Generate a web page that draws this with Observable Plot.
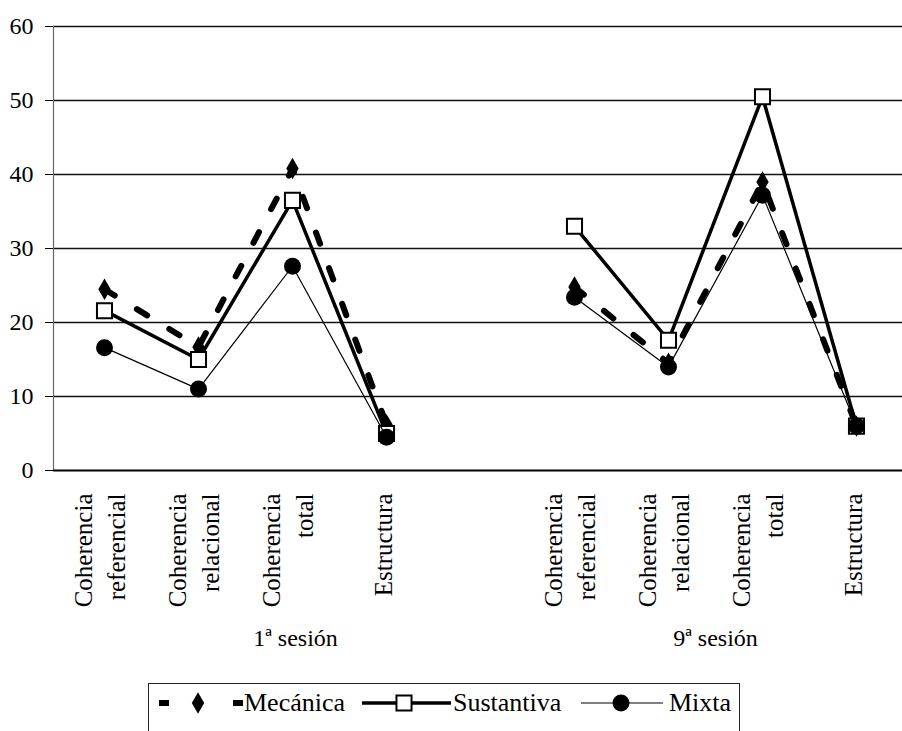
<!DOCTYPE html>
<html><head><meta charset="utf-8">
<script src="https://cdn.jsdelivr.net/npm/d3@7"></script>
<script src="https://cdn.jsdelivr.net/npm/@observablehq/plot@0.6"></script>
<style>
body{margin:0;background:#fff;font-family:"Liberation Serif","LiberationSerif","Tinos","Times New Roman","Times","DejaVu Serif","Noto Serif","FreeSerif",serif;}
#wrap{position:relative;width:902px;height:731px;overflow:hidden;background:#fff;}
#chart{position:absolute;left:0;top:0;}
#legend{position:absolute;left:148px;top:683px;width:592px;height:70px;border:1.5px solid #222;box-sizing:border-box;}
.lt{position:absolute;top:0;line-height:38px;font-size:26px;color:#000;white-space:nowrap;font-family:inherit;}
</style></head><body>
<div id="wrap"><div id="chart"></div><div id="legend"></div></div>
<script>
const categories = ["Coherencia\nreferencial", "Coherencia\nrelacional", "Coherencia\ntotal", "Estructura"];
const sessions = ["1ª sesión", "9ª sesión"];
const series = ["Mecánica", "Sustantiva", "Mixta"];
const mecanica1 = [24.5, 16.7, 40.8, 6.2];
const mecanica9 = [24.8, 14.5, 39, 6];
const sustantiva1 = [21.6, 15, 36.5, 5];
const sustantiva9 = [33, 17.6, 50.5, 6];
const mixta1 = [16.6, 11, 27.6, 4.5];
const mixta9 = [23.4, 14, 37.2, 6];
const yTicks = [0, 10, 20, 30, 40, 50, 60];

const FONT = '"Liberation Serif", "LiberationSerif", "Tinos", "Times New Roman", "Times", "DejaVu Serif", "Noto Serif", "FreeSerif", serif';
const values = {
  "Mecánica": [mecanica1, mecanica9],
  "Sustantiva": [sustantiva1, sustantiva9],
  "Mixta": [mixta1, mixta9]
};
const keyOf = (si, c) => sessions[si] + "|" + c;
const xDomain = [...categories.map(c => keyOf(0, c)), "gap", ...categories.map(c => keyOf(1, c))];

const rows = [];
for (const s of series) {
  values[s].forEach((arr, si) => {
    arr.forEach((v, ci) => rows.push({series: s, session: sessions[si], key: keyOf(si, categories[ci]), value: v}));
  });
}
const labelRows = [];
sessions.forEach((ss, si) => categories.forEach(c => labelRows.push({key: keyOf(si, c), label: c})));
const twoLine = labelRows.filter(d => d.label.includes("\n"));
const oneLine = labelRows.filter(d => !d.label.includes("\n"));

const style = {
  "Mecánica": {line: {strokeWidth: 6, strokeDasharray: "12,26"}, dot: {symbol: "diamond", r: 6.5, fill: "#000", stroke: "none"}},
  "Sustantiva": {line: {strokeWidth: 3.5}, dot: {symbol: "square", r: 8.5, fill: "#fff", stroke: "#000", strokeWidth: 2}},
  "Mixta": {line: {strokeWidth: 1.2}, dot: {symbol: "circle", r: 8.5, fill: "#000", stroke: "none"}}
};

const seriesMarks = series.flatMap(s => {
  const d = rows.filter(r => r.series === s);
  return [
    Plot.line(d, {x: "key", y: "value", z: "session", stroke: "#000", ...style[s].line}),
    Plot.dot(d, {x: "key", y: "value", ...style[s].dot})
  ];
});

const labelOpts = {x: "key", text: "label", frameAnchor: "bottom", dy: 23, rotate: -90, textAnchor: "end", lineHeight: 1.3, fontSize: 25, fontFamily: FONT};

const chart = Plot.plot({
  width: 902,
  height: 680,
  marginTop: 26,
  marginBottom: 210,
  marginLeft: 53,
  marginRight: 0,
  style: {fontFamily: FONT, fontSize: "24px", color: "#000", background: "#fff"},
  x: {type: "point", domain: xDomain, range: [103, 857], padding: 0},
  y: {domain: [0, 60]},
  marks: [
    Plot.ruleY(yTicks.filter(d => d > 0), {stroke: "#111", strokeWidth: 1.3}),
    Plot.frame({anchor: "left", stroke: "#666", strokeWidth: 1.2}),
    Plot.axisY({ticks: yTicks, tickSize: 8, tickPadding: 12, fontSize: 24, stroke: "#000", label: null, fontFamily: FONT}),
    Plot.axisX({ticks: [], label: null}),
    ...seriesMarks,
    Plot.ruleY([0], {stroke: "#000", strokeWidth: 1.8}),
    Plot.text(twoLine, {...labelOpts, dx: 20}),
    Plot.text(oneLine, {...labelOpts, dx: 5}),
    Plot.text([sessions[0]], {x: () => keyOf(0, categories[2]), text: d => d, frameAnchor: "bottom", dy: 175, dx: 3, fontSize: 24, fontFamily: FONT}),
    Plot.text([sessions[1]], {x: () => keyOf(1, categories[1]), text: d => d, frameAnchor: "bottom", dy: 175, dx: 47, fontSize: 24, fontFamily: FONT})
  ]
});
document.getElementById("chart").appendChild(chart);

// Legend
const lg = document.getElementById("legend");
const ns = "http://www.w3.org/2000/svg";
const svg = document.createElementNS(ns, "svg");
svg.setAttribute("width", 590);
svg.setAttribute("height", 40);
svg.style.position = "absolute";
svg.style.left = "0px";
svg.style.top = "0px";
const cy = 19;
svg.innerHTML = `
  <line x1="10" x2="94" y1="${cy}" y2="${cy}" stroke="#000" stroke-width="6" stroke-dasharray="10,64"/>
  <path d="${d3.symbol(d3.symbolDiamond, Math.PI * 6.5 * 6.5)()}" transform="translate(49,${cy})" fill="#000"/>
  <line x1="213" x2="302" y1="${cy}" y2="${cy}" stroke="#000" stroke-width="3.5"/>
  <path d="${d3.symbol(d3.symbolSquare, Math.PI * 8.5 * 8.5)()}" transform="translate(255,${cy})" fill="#fff" stroke="#000" stroke-width="2"/>
  <line x1="432" x2="514" y1="${cy}" y2="${cy}" stroke="#000" stroke-width="1.2"/>
  <circle cx="472" cy="${cy}" r="8.5" fill="#000"/>
`;
lg.appendChild(svg);
const texts = [[series[0], 95], [series[1], 304], [series[2], 520]];
for (const [t, x] of texts) {
  const sp = document.createElement("span");
  sp.className = "lt";
  sp.style.left = x + "px";
  sp.textContent = t;
  lg.appendChild(sp);
}
</script>
</body></html>
